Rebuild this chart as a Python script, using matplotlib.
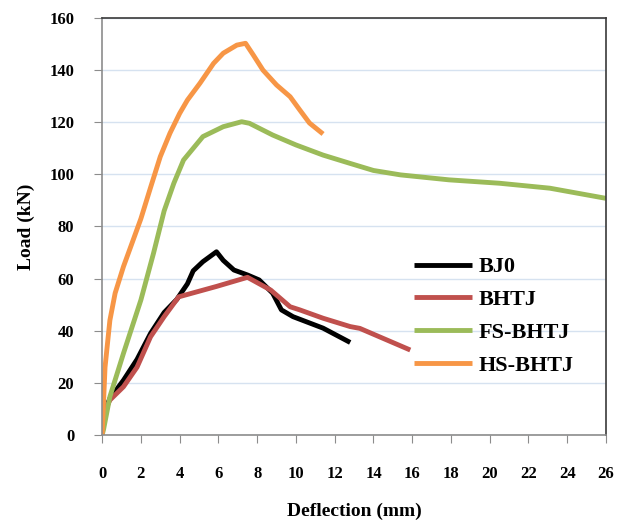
# Load-deflection curves for the beam-column joint specimens

import matplotlib
matplotlib.use("Agg")
import matplotlib.pyplot as plt

plt.rcParams["font.family"] = "serif"
plt.rcParams["font.serif"] = ["Liberation Serif", "DejaVu Serif"]
plt.rcParams["font.weight"] = "bold"

# DATA
bj0_x = [0, 0.07, 0.4, 1.1, 1.8, 2.5, 3.2, 3.85, 4.4, 4.7, 5.2, 5.9, 6.25, 6.8, 7.5, 8.1, 8.8, 9.25, 9.85, 11.4, 12.8]
bj0_y = [0, 8, 14, 21, 29, 39, 47, 52, 58, 63, 66.5, 70.3, 67, 63.3, 61.4, 59.5, 54.4, 48, 45.4, 41, 35.5]

bhtj_x = [0, 0.07, 0.4, 1.1, 1.8, 2.5, 3.2, 3.95, 5.9, 7.5, 8.7, 9.7, 10.2, 11.4, 12.8, 13.3, 15.9]
bhtj_y = [0, 8, 13.4, 18.5, 26, 37.7, 45.4, 53, 57, 60.5, 55.6, 49.2, 48, 44.8, 41.6, 40.9, 32.6]

fs_x = [0, 0.07, 0.4, 1.1, 2.0, 2.65, 3.2, 3.7, 4.2, 5.2, 6.25, 7.2, 7.6, 8.8, 10.0, 11.4, 12.8, 14.0, 15.4, 17.9, 20.5, 23.1, 26]
fs_y = [0, 2, 14.7, 31.3, 51.8, 69.7, 86, 96.6, 105.5, 114.5, 118.3, 120.2, 119.6, 115.1, 111.3, 107.4, 104.2, 101.5, 99.8, 97.9, 96.6, 94.7, 90.8]

hs_x = [0, 0.15, 0.4, 0.67, 1.1, 1.6, 2.0, 2.5, 3.0, 3.5, 4.0, 4.4, 5.05, 5.75, 6.25, 6.95, 7.4, 7.8, 8.3, 9.0, 9.7, 10.2, 10.7, 11.4]
hs_y = [0, 26, 44, 54.4, 64.6, 74.8, 83, 95, 106.8, 115.8, 123.4, 128.5, 135, 142.6, 146.5, 149.6, 150.3, 145.8, 140, 134.3, 129.8, 124.7, 119.7, 115.5]

series = [
    ("BJ0", bj0_x, bj0_y, "#000000"),
    ("BHTJ", bhtj_x, bhtj_y, "#c0504d"),
    ("FS-BHTJ", fs_x, fs_y, "#9bbb59"),
    ("HS-BHTJ", hs_x, hs_y, "#f79646"),
]

x_ticks = list(range(0, 27, 2))
y_ticks = list(range(0, 161, 20))

## FIGURE
fig = plt.figure(figsize=(6.19, 5.22), dpi=100)
ax = fig.add_axes([0.165, 0.1667, 0.814, 0.7988])

for name, xs, ys, col in series:
    ax.plot(xs, ys, color=col, lw=3.5, label=name, solid_capstyle="butt")

ax.set_xlim(0, 26)
ax.set_ylim(0, 160)
ax.set_xticks(x_ticks)
ax.set_yticks(y_ticks)

# Grid only horizontal, light blue
ax.yaxis.grid(True, color="#d6e2f0", lw=1)
ax.set_axisbelow(True)

for side in ["left", "bottom"]:
    ax.spines[side].set_color("#8c8c8c")
    ax.spines[side].set_linewidth(1.2)
for side in ["top", "right"]:
    ax.spines[side].set_color("#3a3a3a")
    ax.spines[side].set_linewidth(1.2)

ax.tick_params(axis="x", direction="out", length=6, color="#8c8c8c", pad=16, labelsize=12)
ax.tick_params(axis="y", direction="out", length=6, color="#8c8c8c", pad=14, labelsize=12)

## LABELS
ax.set_xlabel("Deflection (mm)", fontsize=14, fontweight="bold", labelpad=15)
ax.set_ylabel("Load (kN)", fontsize=14, fontweight="bold", labelpad=10)

ax.legend(loc="upper left", bbox_to_anchor=(0.58, 0.475), frameon=False,
          prop={"size": 16, "weight": "bold"}, handlelength=2.6,
          handletextpad=0.3, labelspacing=0.55)

plt.savefig("out.png", dpi=100)
